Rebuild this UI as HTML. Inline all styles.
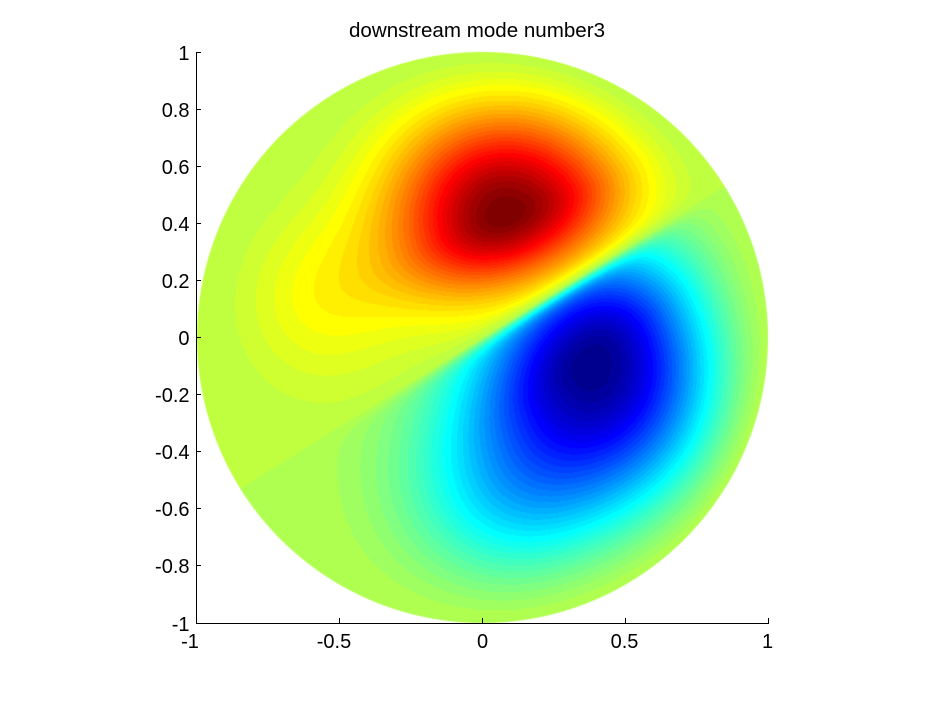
<!DOCTYPE html>
<html>
<head>
<meta charset="utf-8">
<style>
html,body{margin:0;padding:0;background:#fff;width:931px;height:702px;overflow:hidden;position:relative}
#fb{position:absolute;left:197px;top:52px;width:571px;height:571px;border-radius:50%;background:#b4ff4c}
#c{position:absolute;left:0;top:0}
svg{position:absolute;left:0;top:0}
text{font-family:"Liberation Sans",Arial,Helvetica,sans-serif;font-size:20px;fill:#000}
</style>
</head>
<body>
<div id="fb"></div>
<canvas id="c" width="931" height="702"></canvas>
<svg width="931" height="702" viewBox="0 0 931 702">
  <g stroke="#000" stroke-width="1" shape-rendering="crispEdges" fill="none">
    <line x1="196.5" y1="52" x2="196.5" y2="624"/>
    <line x1="196" y1="623.5" x2="769" y2="623.5"/>
    <line x1="196" y1="52.5" x2="201" y2="52.5"/>
    <line x1="196" y1="109.5" x2="201" y2="109.5"/>
    <line x1="196" y1="166.5" x2="201" y2="166.5"/>
    <line x1="196" y1="223.5" x2="201" y2="223.5"/>
    <line x1="196" y1="280.5" x2="201" y2="280.5"/>
    <line x1="196" y1="337.5" x2="201" y2="337.5"/>
    <line x1="196" y1="394.5" x2="201" y2="394.5"/>
    <line x1="196" y1="451.5" x2="201" y2="451.5"/>
    <line x1="196" y1="508.5" x2="201" y2="508.5"/>
    <line x1="196" y1="565.5" x2="201" y2="565.5"/>
    <line x1="339.5" y1="618" x2="339.5" y2="623"/>
    <line x1="482.5" y1="618" x2="482.5" y2="623"/>
    <line x1="625.5" y1="618" x2="625.5" y2="623"/>
    <line x1="768.5" y1="618" x2="768.5" y2="623"/>
  </g>
  <text x="477" y="37" text-anchor="middle" textLength="256" lengthAdjust="spacingAndGlyphs">downstream mode number3</text>
  <g text-anchor="end">
    <text x="189.5" y="60">1</text>
    <text x="189.5" y="117">0.8</text>
    <text x="189.5" y="174">0.6</text>
    <text x="189.5" y="231">0.4</text>
    <text x="189.5" y="288">0.2</text>
    <text x="189.5" y="345">0</text>
    <text x="189.5" y="402">-0.2</text>
    <text x="189.5" y="459">-0.4</text>
    <text x="189.5" y="516">-0.6</text>
    <text x="189.5" y="573">-0.8</text>
    <text x="189.5" y="631">-1</text>
  </g>
  <g text-anchor="middle">
    <text x="190" y="648">-1</text>
    <text x="334" y="648">-0.5</text>
    <text x="482.5" y="648">0</text>
    <text x="624.5" y="648">0.5</text>
    <text x="767.5" y="648">1</text>
  </g>
</svg>
<script>
(function(){
  var cv=document.getElementById('c');
  var ctx=cv.getContext('2d');
  var CX=482.5, CY=337.5, R=285.5;
  function uu(k){ if(k<1||k>47) return 0; if(k<=16) return k/16; if(k<=31) return 1; return (48-k)/16; }
  var jet=[];
  for(var I=1;I<=64;I++){ jet.push([Math.round(255*uu(I-24)),Math.round(255*uu(I-8)),Math.round(255*uu(I+8))]); }
  var DEG=Math.PI/180;
  var zc=Math.cos(32*DEG), zs=Math.sin(32*DEG);
  function gauss(x,y,cx,cy,ang,Ap,An,Bp,Bn){
    var dx=x-cx, dy=y-cy, c=Math.cos(ang*DEG), s=Math.sin(ang*DEG);
    var a=dx*c+dy*s, b=-dx*s+dy*c;
    var A=a>0?Ap:An, B=b>0?Bp:Bn;
    return Math.exp(-(a*a/(A*A)+b*b/(B*B)));
  }
  function pos(x,y){
    return gauss(x,y,0.09,0.45,22,0.46,0.40,0.42,0.25)
      + 0.16*Math.exp(-((x+0.6)*(x+0.6)+(y-0.15)*(y-0.15))/0.1);
  }
  function neg(x,y){
    return gauss(x,y,0.42,-0.07,35,0.45,0.45,0.36,0.6)
      + 0.36*Math.exp(-((x-0.1)*(x-0.1)+(y+0.6)*(y+0.6))/0.16);
  }
  var w=0.035;
  function field(x,y){
    var r2=x*x+y*y;
    var env=1-r2*r2; if(env<0) env=0;
    var v=-x*zs+y*zc;
    if(v>=0) return pos(x,y)*env*Math.tanh(v/w);
    return -neg(x,y)*env*Math.tanh(-v/w);
  }
  var x0=Math.floor(CX-R)-1, x1=Math.ceil(CX+R)+1, y0=Math.floor(CY-R)-1, y1=Math.ceil(CY+R)+1;
  var fw=x1-x0, fh=y1-y0;
  var F=new Float64Array(fw*fh), COV=new Float64Array(fw*fh);
  var fmax=1e-12, fmin=-1e-12;
  for(var py=y0;py<y1;py++){
    for(var px=x0;px<x1;px++){
      var ex=px+0.5-CX, ey=py+0.5-CY;
      var d=Math.sqrt(ex*ex+ey*ey);
      var cov=R-d+0.5; if(cov<0) cov=0; if(cov>1) cov=1;
      var idx=(py-y0)*fw+(px-x0);
      COV[idx]=cov;
      if(cov>0){
        var f=field(ex/R,-ey/R);
        F[idx]=f;
        if(f>fmax) fmax=f;
        if(f<fmin) fmin=f;
      }
    }
  }
  var img=ctx.createImageData(fw,fh);
  var D=img.data;
  var t0=35/64;
  for(var i=0;i<fw*fh;i++){
    var cov=COV[i], o=i*4;
    if(cov<=0){ D[o]=255;D[o+1]=255;D[o+2]=255;D[o+3]=0; continue; }
    var f=F[i], t;
    if(f>=0) t=t0+(f/fmax)*(29/64); else t=t0-(f/fmin)*(35/64);
    var k=Math.floor(t*64); if(k<0)k=0; if(k>63)k=63;
    var col=jet[k];
    D[o]=Math.round(col[0]*cov+255*(1-cov));
    D[o+1]=Math.round(col[1]*cov+255*(1-cov));
    D[o+2]=Math.round(col[2]*cov+255*(1-cov));
    D[o+3]=255;
  }
  ctx.putImageData(img,x0,y0);
  document.getElementById('fb').style.display='none';
})();
</script>
</body>
</html>
